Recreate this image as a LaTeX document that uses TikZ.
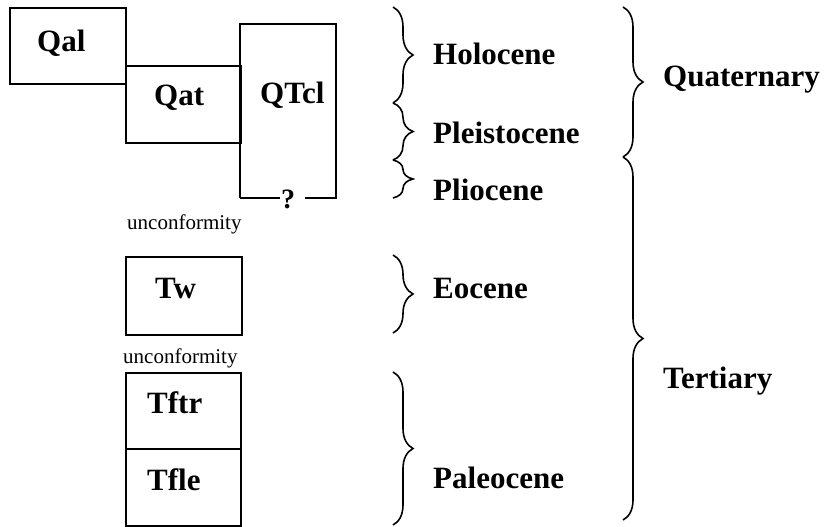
\documentclass[tikz,border=0pt]{standalone}
\usepackage{fontspec}
\setmainfont{Liberation Serif}
\usetikzlibrary{decorations.pathreplacing}
\begin{document}
\begin{tikzpicture}[x=1pt,y=-1pt,
  unitlabel/.style={font=\fontsize{31}{36}\selectfont\bfseries, inner sep=0pt, anchor=base west},
  note/.style={font=\fontsize{21}{25}\selectfont, inner sep=0pt, anchor=base west},
  unitbox/.style={rectangle, draw, line width=1.6pt, inner sep=0pt, anchor=north west},
  period/.style={decorate, decoration={brace, amplitude=20pt}, line width=1.6pt}]
\useasboundingbox (0,0) rectangle (830,527);

% map unit boxes
\node[unitbox, minimum width=116pt, minimum height=76pt] (qal) at (9,7) {};
\node[unitbox, minimum width=115pt, minimum height=77pt] (qat) at (125,65) {};
\node[unitbox, minimum width=116pt, minimum height=78pt] (tw) at (125,256) {};
\node[unitbox, minimum width=115pt, minimum height=77pt] (tfle) at (125,448) {};
\node[unitbox, line width=2.3pt, minimum width=115pt, minimum height=76pt] (tftr) at (125,372) {};

% QTcl box, open at the base where the lower contact is uncertain
\coordinate (qtcl-bl) at (240,198);
\coordinate (qtcl-tl) at (240,24);
\coordinate (qtcl-tr) at (336,24);
\coordinate (qtcl-br) at (336,198);
\coordinate (qtcl-gl) at (280,198);
\coordinate (qtcl-gr) at (305,198);
\draw[line width=1.6pt] (qtcl-bl) -- (qtcl-tl) -- (qtcl-tr) -- (qtcl-br) -- (qtcl-gr);
\draw[line width=2.5pt] (qtcl-bl) -- (qtcl-gl);

% unit labels
\node[unitlabel] (lqal) at (37,52) {Qal};
\node[unitlabel] (lqat) at (154,105) {Qat};
\node[unitlabel] (lqtcl) at (260,103) {QTcl};
\node[unitlabel, font=\fontsize{28}{32}\selectfont\bfseries] (lq) at (281,208) {?};
\node[unitlabel] (ltw) at (155,298) {Tw};
\node[unitlabel] (ltftr) at (147,413) {Tftr};
\node[unitlabel] (ltfle) at (147,490) {Tfle};

\node[note] (unc1) at (127,229) {unconformity};
\node[note] (unc2) at (123,363) {unconformity};

% epochs
\coordinate (hol-t) at (393,7);
\coordinate (hol-b) at (393,103);
\coordinate (ple-b) at (393,160);
\coordinate (pli-b) at (393,198);
\coordinate (eoc-t) at (393,255);
\coordinate (eoc-b) at (393,333);
\coordinate (pal-t) at (393,372);
\coordinate (pal-b) at (393,525);
\draw[period] (hol-t) -- (hol-b);
\draw[period] (hol-b) -- (ple-b);
\draw[period] (ple-b) -- (pli-b);
\draw[period] (eoc-t) -- (eoc-b);
\draw[period] (pal-t) -- (pal-b);

\node[unitlabel] (holocene) at (433,65) {Holocene};
\node[unitlabel] (pleistocene) at (433,143) {Pleistocene};
\node[unitlabel] (pliocene) at (433,200) {Pliocene};
\node[unitlabel] (eocene) at (433,298) {Eocene};
\node[unitlabel] (paleocene) at (433,488) {Paleocene};

% periods
\coordinate (qua-t) at (623,7);
\coordinate (qua-b) at (623,157);
\coordinate (ter-b) at (623,520);
\draw[period] (qua-t) -- (qua-b);
\draw[period] (qua-b) -- (ter-b);

\node[unitlabel] (quaternary) at (663,87) {Quaternary};
\node[unitlabel] (tertiary) at (663,388) {Tertiary};
\end{tikzpicture}
\end{document}
